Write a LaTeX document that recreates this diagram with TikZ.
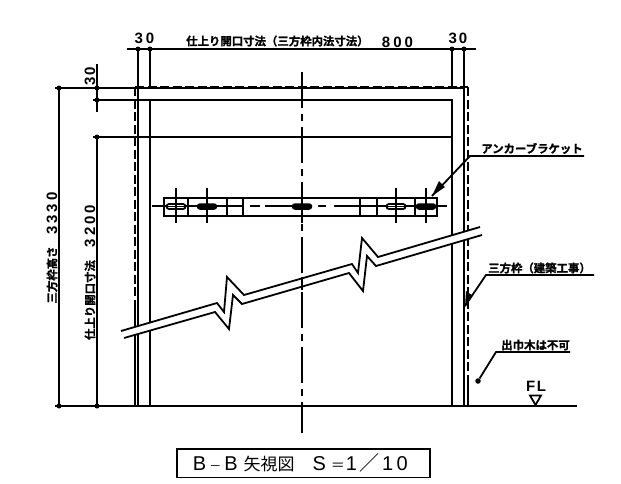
\documentclass[tikz,border=0pt]{standalone}
\usepackage{fontspec}
\setmainfont{Liberation Sans}
\newfontfamily\jpf[FakeBold=1.2]{Noto Sans CJK JP Bold}
\newfontfamily\jpg{Noto Sans CJK JP}
\tikzset{
 ln/.style={line width=1.8pt,black},
 hid/.style={line width=1.9pt,dash pattern=on 9pt off 3.5pt},
 cen/.style={line width=1.7pt,dash pattern=on 36pt off 6pt on 7pt off 6pt},
 jp/.style={inner sep=0pt,font=\jpf\fontsize{11.4}{11.4}\selectfont},
 num/.style={inner sep=0pt,font=\bfseries\fontsize{15}{15}\selectfont},
 dot/.style={circle,fill=black,inner sep=0pt,minimum size=5pt},
 slotfull/.style={line width=1.5pt,draw=black,fill=black,rounded corners=2.5pt,minimum width=19pt,minimum height=5pt,inner sep=0pt},
 slotopen/.style={line width=1.8pt,draw=black,fill=white,rounded corners=2.5pt,minimum width=19pt,minimum height=5pt,inner sep=0pt},
}
\begin{document}
\begin{tikzpicture}[x=1pt,y=-1pt]
\useasboundingbox (0,0) rectangle (621,483);
% dimension lines
\draw[ln] (127,49) -- (476,49);
\foreach \x in {138,150,452,464}{\draw[ln] (\x,49) -- (\x,88); \node[dot] at (\x,49) {};}
\draw[ln] (55,88) -- (138,88);
\draw[ln] (59,88) -- (59,406);
\draw[ln] (97,64) -- (97,112);
\draw[ln] (93,100) -- (150,100);
\draw[ln] (97,137) -- (97,406);
\draw[ln] (93,137) -- (452,137);
\foreach \p in {(59,88),(59,406),(97,88),(97,100),(97,137),(97,406)}{\node[dot] at \p {};}
% frame
\draw[ln] (138,406) -- (138,88) -- (464,88) -- (464,406);
\draw[ln] (150,406) -- (150,100) -- (452,100) -- (452,406);
\draw[hid] (135,87) -- (135,308);
\draw[ln] (135,308) -- (135,406);
\draw[hid] (135,87) -- (468,87);
\draw[hid] (468,87) -- (468,375);
\draw[ln] (468,375) -- (468,406);
% floor
\draw[ln] (55,406) -- (577,406);
% centre line
\draw[cen] (302,72) -- (302,433);
% bracket
\draw[ln] (164,198) rectangle (437,216);
\draw[ln] (152,206) -- (243,206) (250,206) -- (260,206) (265,206) -- (340,206) (318,206) -- (326,206) (334,206) -- (447,206);
\fill[white] (312,203) rectangle (318,209) (326,203) rectangle (334,209);
\foreach \x in {188,227,243,360,377,415}{\draw[ln] (\x,198) -- (\x,216);}
\node[slotopen] at (176,206.5) {};
\node[slotfull] at (207,206.5) {};
\node[slotfull] at (302,206.5) {};
\node[slotopen] at (396,206.5) {};
\node[slotfull] at (426,206.5) {};
\draw[ln] (166,206.5) -- (186,206.5) (386,206.5) -- (406,206.5);
\foreach \x in {176,207,302,396,426}{\draw[ln] (\x,188) -- (\x,223);}
% break band
\fill[white] (121,331) -- (217,303) -- (224,312) -- (227,277) -- (244,295) -- (352,264) -- (358,273) -- (362,238) -- (378,257) -- (480,227)
 -- (482,235) -- (376,266) -- (367,256) -- (363,291) -- (349,273) -- (242,304) -- (233,295) -- (229,329) -- (215,312) -- (124,338) -- cycle;
\draw[ln] (302,277) -- (302,290);
\draw[ln] (121,331) -- (217,303) -- (224,312) -- (227,277) -- (244,295) -- (352,264) -- (358,273) -- (362,238) -- (378,257) -- (480,227);
\draw[ln] (124,338) -- (215,312) -- (229,329) -- (233,295) -- (242,304) -- (349,273) -- (363,291) -- (367,256) -- (376,266) -- (482,235);
% leaders
\coordinate (a1) at (432,196);
\coordinate (a2) at (470,156);
\coordinate (a3) at (584,156);
\draw[ln] (a3) -- (a2) -- (a1);
\fill (432,196) -- (445,187) -- (439,181) -- cycle;
\coordinate (b1) at (465,306);
\coordinate (b2) at (486,275);
\coordinate (b3) at (594,275);
\draw[ln] (b3) -- (b2) -- (b1);
\fill (465,307) -- (472,295) -- (466,291) -- cycle;
\node[dot,minimum size=5.5pt] (c1) at (478,381) {};
\coordinate (c2) at (496,352);
\coordinate (c3) at (570,352);
\draw[ln] (c3) -- (c2) -- (c1);
% FL
\node[inner sep=0pt,font=\fontsize{15}{15}\selectfont\bfseries] at (536,386) {F\kern1.5pt L};
\draw[ln] (530,395.5) -- (541,395.5) -- (535.5,405) -- cycle;
% texts
\node[jp,anchor=west] at (186,41) {仕上り開口寸法（三方枠内法寸法）};
\node[num] at (397.5,42) {8\kern3pt 0\kern3pt 0};
\node[num] at (144.5,38) {3\kern3pt 0};
\node[num] at (458,38) {3\kern2pt 0};
\node[num,rotate=90] at (90,76) {3\kern1.5pt 0};
\node[num,rotate=90] at (52,213.5) {3\kern3pt 3\kern3pt 3\kern3pt 0};
\node[jp,rotate=90] at (52,275) {三方枠高さ};
\node[num,rotate=90] at (90,226) {3\kern3pt 2\kern3pt 0\kern3pt 0};
\node[jp,rotate=90] at (90,300) {仕上り開口寸法};
\node[jp] at (532,148.5) {アンカーブラケット};
\node[jp] at (539.5,268) {三方枠（建築工事）};
\node[jp] at (535.5,345) {出巾木は不可};
% title
\node[draw=black,line width=1.8pt,minimum width=253pt,minimum height=28.5pt,inner sep=0pt,anchor=north west] (title) at (176,448) {\fontsize{20}{20}\selectfont B\kern3pt{\jpg\fontsize{12}{12}\selectfont －}\kern3pt B\kern6pt{\jpg\fontsize{17}{17}\selectfont 矢視図}\kern18pt S\kern5pt{\jpg\fontsize{14}{14}\selectfont ＝}\kern1pt 1\kern2pt{\jpg\fontsize{20}{20}\selectfont ／}\kern3pt 1\kern3.5pt 0\kern6pt};
\end{tikzpicture}
\end{document}
